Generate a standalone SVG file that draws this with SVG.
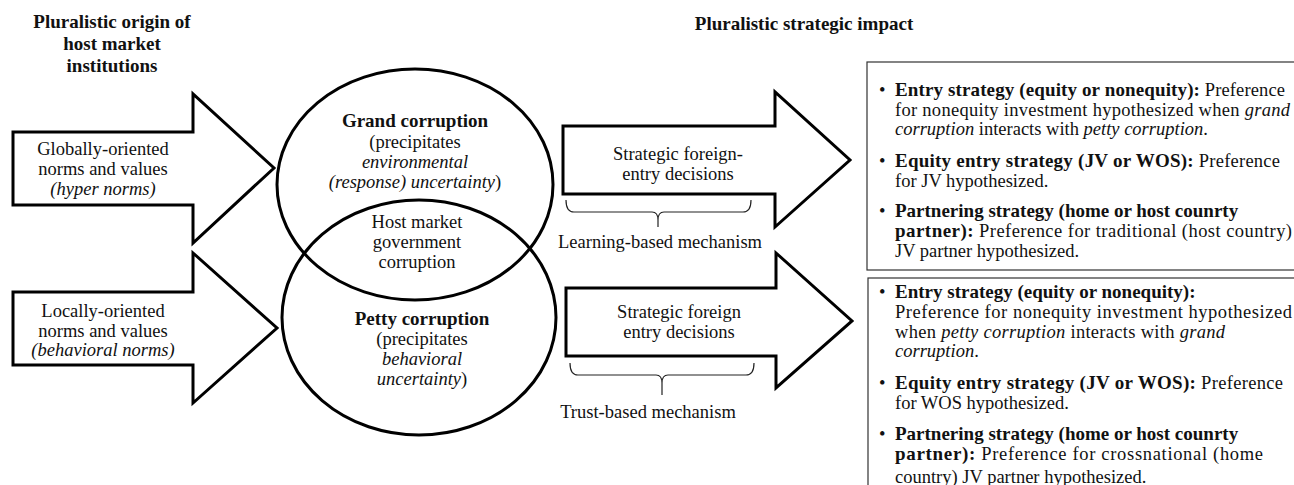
<svg xmlns="http://www.w3.org/2000/svg" width="1294" height="485" viewBox="0 0 1294 485">
<style>
text{font-family:"Liberation Serif","Times New Roman",serif;font-size:18.5px;fill:#111}
.c{text-anchor:middle}
.b{font-weight:bold;font-size:19px}
.i{font-style:italic}
.arrow{fill:#fff;stroke:#000;stroke-width:3;stroke-linejoin:miter}
.ell{fill:none;stroke:#000;stroke-width:3}
.brace{fill:none;stroke:#222;stroke-width:1.2}
.box{fill:#fff;stroke:#333;stroke-width:1.2}
</style>
<rect width="1294" height="485" fill="#fff"/>

<g id="titles">
<text class="c b" x="112" y="28">Pluralistic origin of</text>
<text class="c b" x="112" y="50">host market</text>
<text class="c b" x="112" y="72">institutions</text>
<text class="c b" x="804" y="30">Pluralistic strategic impact</text>
</g>

<g id="arrow-global">
<path class="arrow" d="M13,132 H193 V94 L274,168 L193,243 V205 H13 Z"/>
<text class="c" x="103" y="155">Globally-oriented</text>
<text class="c" x="103" y="175">norms and values</text>
<text class="c i" x="103" y="195">(hyper norms)</text>
</g>

<g id="arrow-local">
<path class="arrow" d="M13,292 H193 V253 L277,328 L193,403 V365 H13 Z"/>
<text class="c" x="103" y="317">Locally-oriented</text>
<text class="c" x="103" y="337">norms and values</text>
<text class="c i" x="103" y="356">(behavioral norms)</text>
</g>

<g id="ellipse-grand">
<ellipse class="ell" cx="415" cy="184.5" rx="138" ry="115.5"/>
<text class="c b" x="415" y="127">Grand corruption</text>
<text class="c" x="415" y="148">(precipitates</text>
<text class="c i" x="415" y="168">environmental</text>
<text class="c" x="415" y="188"><tspan class="i">(response) uncertainty</tspan>)</text>
</g>

<g id="ellipse-petty">
<ellipse class="ell" cx="419" cy="317.5" rx="137" ry="117.5"/>
<text class="c b" x="422" y="325">Petty corruption</text>
<text class="c" x="422" y="345">(precipitates</text>
<text class="c i" x="422" y="365">behavioral</text>
<text class="c" x="422" y="385"><tspan class="i">uncertainty</tspan>)</text>
</g>

<g id="overlap">
<text class="c" x="417" y="228">Host market</text>
<text class="c" x="417" y="248">government</text>
<text class="c" x="417" y="268">corruption</text>
</g>

<g id="arrow-learning">
<path class="arrow" d="M563,126 H775 V92 L850,160 L775,227 V194 H563 Z"/>
<text class="c" x="678" y="160">Strategic foreign-</text>
<text class="c" x="678" y="180">entry decisions</text>
</g>

<g id="arrow-trust">
<path class="arrow" d="M566,288 H776 V253 L852,321 L776,388 V356 H566 Z"/>
<text class="c" x="679" y="318">Strategic foreign</text>
<text class="c" x="679" y="338">entry decisions</text>
</g>

<g id="connectors">
<path class="brace" d="M566,200 Q566,212 574,212 H652 Q658,212 658,220 V227 M751,200 Q751,212 743,212 H664 Q658,212 658,220"/>
<path class="brace" d="M570,363 Q570,375 578,375 H656 Q662,375 662,383 V395 M754,363 Q754,375 746,375 H668 Q662,375 662,383"/>
</g>

<g id="label-learning">
<text class="c" x="660" y="248">Learning-based mechanism</text>
</g>
<g id="label-trust">
<text class="c" x="648" y="418">Trust-based mechanism</text>
</g>

<g id="box-grand">
<rect class="box" x="867" y="62" width="440" height="208"/>
<text x="879" y="96">•</text>
<text x="895" y="96" textLength="390" lengthAdjust="spacing"><tspan class="b">Entry strategy (equity or nonequity):</tspan>  Preference</text>
<text x="895" y="116" textLength="395" lengthAdjust="spacing">for nonequity investment hypothesized when <tspan class="i">grand</tspan></text>
<text x="895" y="135"><tspan class="i">corruption</tspan> interacts with <tspan class="i">petty corruption</tspan>.</text>
<text x="879" y="167">•</text>
<text x="895" y="167" textLength="385" lengthAdjust="spacing"><tspan class="b">Equity entry strategy (JV or WOS):</tspan> Preference</text>
<text x="895" y="187">for JV hypothesized.</text>
<text x="879" y="217">•</text>
<text x="895" y="217"><tspan class="b">Partnering strategy (home or host counrty</tspan></text>
<text x="895" y="237" textLength="397" lengthAdjust="spacing"><tspan class="b">partner):</tspan>  Preference for traditional (host country)</text>
<text x="895" y="257">JV partner hypothesized.</text>
</g>

<g id="box-petty">
<rect class="box" x="868" y="278" width="440" height="220"/>
<text x="879" y="298">•</text>
<text x="895" y="298"><tspan class="b">Entry strategy (equity or nonequity):</tspan></text>
<text x="895" y="318" textLength="397" lengthAdjust="spacing">Preference for nonequity investment hypothesized</text>
<text x="895" y="338" textLength="330" lengthAdjust="spacing">when <tspan class="i">petty corruption</tspan> interacts with <tspan class="i">grand</tspan></text>
<text x="895" y="357"><tspan class="i">corruption</tspan>.</text>
<text x="879" y="389">•</text>
<text x="895" y="389" textLength="388" lengthAdjust="spacing"><tspan class="b">Equity entry strategy (JV or WOS):</tspan> Preference</text>
<text x="895" y="409">for WOS hypothesized.</text>
<text x="879" y="440">•</text>
<text x="895" y="440"><tspan class="b">Partnering strategy (home or host counrty</tspan></text>
<text x="895" y="460" textLength="368" lengthAdjust="spacing"><tspan class="b">partner):</tspan>  Preference for crossnational (home</text>
<text x="895" y="483">country) JV partner hypothesized.</text>
</g>
</svg>
